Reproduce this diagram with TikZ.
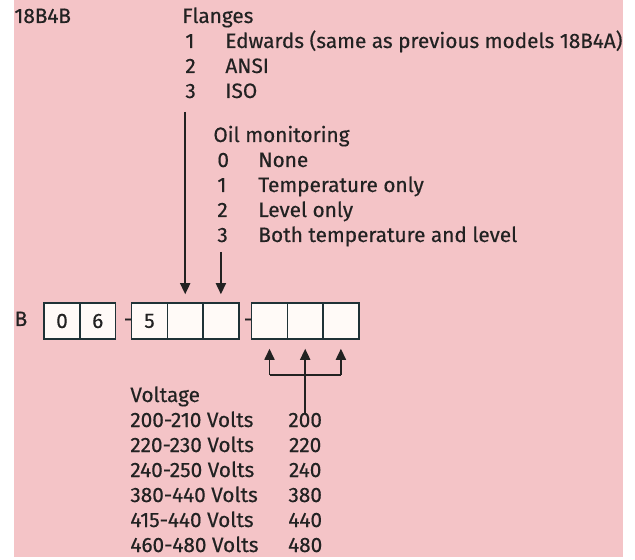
\documentclass[tikz,border=0pt]{standalone}
\usepackage{fontspec}
\setsansfont{Fira Sans}[FakeBold=0.4]
\usepackage{tikz}
\usetikzlibrary{arrows.meta, positioning, calc}
\usepackage{xcolor}
\definecolor{sheetpink}{RGB}{244,196,199}
\definecolor{inkgray}{HTML}{222222}
\definecolor{boxline}{HTML}{1F3236}
\definecolor{boxfill}{HTML}{FFFAF7}

\begin{document}
\begin{tikzpicture}[x=0.5pt, y=-0.5pt,
    >={Triangle[length=5.5pt, width=5pt]},
    txt/.style={font=\fontsize{10.4}{12}\sffamily, text=inkgray, anchor=west,
      inner sep=0pt, text height=7pt, text depth=2pt},
    digitbox/.style={draw=boxline, fill=boxfill, line width=0.75pt,
      minimum width=17.85pt, minimum height=18pt, inner sep=0pt,
      font=\fontsize{10.4}{12}\sffamily, text=inkgray},
    feed/.style={->, draw=inkgray, line width=0.85pt}]
  \useasboundingbox[fill=white] (0,0) rectangle (635,560);
  \fill[sheetpink] (14,0) rectangle (623,557);

  \begin{scope}
    \clip (14,0) rectangle (623,557);
    % Model and flanges
    \node[txt] (model) at (14, 18) {18B4B};
    \node[txt] (flanges) at (182, 18) {Flanges};
    \node[txt] (fl1) at (185, 43) {1};
    \node[txt] (fl1txt) at (225, 43) {Edwards (same as previous models 18B4A)};
    \node[txt] (fl2) at (185, 68) {2};
    \node[txt] (fl2txt) at (225, 68) {ANSI};
    \node[txt] (fl3) at (185, 93) {3};
    \node[txt] (fl3txt) at (225, 93) {ISO};

    % Oil monitoring
    \node[txt] (oil) at (213, 137) {Oil monitoring};
    \node[txt] (oil0) at (217, 162) {0};
    \node[txt] (oil0txt) at (258, 162) {None};
    \node[txt] (oil1) at (217, 187) {1};
    \node[txt] (oil1txt) at (258, 187) {Temperature only};
    \node[txt] (oil2) at (217, 212) {2};
    \node[txt] (oil2txt) at (258, 212) {Level only};
    \node[txt] (oil3) at (217, 237) {3};
    \node[txt] (oil3txt) at (258, 237) {Both temperature and level};

    % Order code
    \node[txt, anchor=center] (prefix) at (21, 321) {B};
    \node[digitbox] (bx1) at (62, 321) {0};
    \node[digitbox] (bx2) at (97.7, 321) {6};
    \node[txt, anchor=center] (dash1) at (128, 321) {-};
    \node[digitbox] (bx3) at (149.5, 321) {5};
    \node[digitbox] (bx4) at (185.2, 321) {};
    \node[digitbox] (bx5) at (220.9, 321) {};
    \node[txt, anchor=center] (dash2) at (248, 321) {-};
    \node[digitbox] (bx6) at (269.5, 321) {};
    \node[digitbox] (bx7) at (305.2, 321) {};
    \node[digitbox] (bx8) at (340.9, 321) {};

    % Voltage
    \node[txt] (volt) at (130, 397) {Voltage};
    \node[txt] (v1) at (130, 422) {200-210 Volts};
    \node[txt, anchor=center] (v1code) at (305.2, 422) {200};
    \node[txt] (v2) at (130, 447) {220-230 Volts};
    \node[txt, anchor=center] (v2code) at (305.2, 447) {220};
    \node[txt] (v3) at (130, 472) {240-250 Volts};
    \node[txt, anchor=center] (v3code) at (305.2, 472) {240};
    \node[txt] (v4) at (130, 497) {380-440 Volts};
    \node[txt, anchor=center] (v4code) at (305.2, 497) {380};
    \node[txt] (v5) at (130, 522) {415-440 Volts};
    \node[txt, anchor=center] (v5code) at (305.2, 522) {440};
    \node[txt] (v6) at (130, 547) {460-480 Volts};
    \node[txt, anchor=center] (v6code) at (305.2, 547) {480};
  \end{scope}

  % Arrows
  \coordinate (flangestop) at (185.2, 112);
  \coordinate (oiltop) at (220.9, 252);
  \coordinate (voltbar) at (305.2, 375);
  \draw[feed, shorten >=4pt] (flangestop) -- (bx4.north);
  \draw[feed, shorten >=4pt] (oiltop) -- (bx5.north);
  \draw[draw=inkgray, line width=0.85pt] (bx6.south |- voltbar) -- (bx8.south |- voltbar);
  \draw[draw=inkgray, line width=0.85pt] (v1code.north) -- (voltbar);
  \draw[feed, shorten >=4.5pt] (voltbar) -- (bx7.south);
  \draw[feed, shorten >=4.5pt] (bx6.south |- voltbar) -- (bx6.south);
  \draw[feed, shorten >=4.5pt] (bx8.south |- voltbar) -- (bx8.south);
\end{tikzpicture}
\end{document}
